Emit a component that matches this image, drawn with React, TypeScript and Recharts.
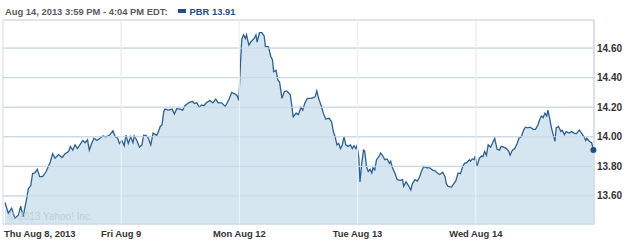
import { AreaChart, Area, XAxis, YAxis, CartesianGrid, ReferenceLine, ReferenceDot } from "recharts";

const dayLabels = ["Thu Aug 8, 2013", "Fri Aug 9", "Mon Aug 12", "Tue Aug 13", "Wed Aug 14"];
const priceTicks = [13.6, 13.8, 14.0, 14.2, 14.4, 14.6];

// time = fraction of the trading session, price = PBR last trade
const aug8Time = [0.017, 0.045, 0.073, 0.1, 0.13, 0.15, 0.17, 0.195, 0.215, 0.235, 0.25, 0.27, 0.29, 0.31, 0.335, 0.365, 0.4, 0.42, 0.44, 0.47, 0.5, 0.525, 0.555, 0.57, 0.59, 0.61, 0.63, 0.65, 0.675, 0.695, 0.715, 0.73, 0.75, 0.77, 0.795, 0.82, 0.845, 0.87, 0.9, 0.93, 0.95, 0.97, 0.985];
const aug8Price = [13.555, 13.483, 13.517, 13.45, 13.47, 13.53, 13.46, 13.56, 13.65, 13.67, 13.75, 13.756, 13.78, 13.73, 13.73, 13.765, 13.83, 13.885, 13.855, 13.88, 13.86, 13.885, 13.9, 13.935, 13.91, 13.945, 13.92, 13.945, 13.975, 13.96, 13.98, 13.91, 13.955, 13.99, 13.975, 13.99, 14.005, 14.0, 14.01, 14.04, 14.0, 13.99, 13.955];

const aug9Time = [0.006, 0.025, 0.04, 0.06, 0.08, 0.1, 0.11, 0.13, 0.155, 0.175, 0.19, 0.21, 0.23, 0.25, 0.27, 0.3, 0.315, 0.33, 0.345, 0.36, 0.37, 0.4, 0.43, 0.45, 0.47, 0.5, 0.52, 0.54, 0.57, 0.6, 0.62, 0.64, 0.66, 0.68, 0.7, 0.72, 0.75, 0.775, 0.8, 0.82, 0.85, 0.88, 0.91, 0.935, 0.96, 0.98, 0.995];
const aug9Price = [13.975, 13.94, 14.01, 13.955, 14.0, 13.96, 14.005, 13.98, 13.93, 13.945, 14.01, 14.01, 13.99, 13.945, 14.025, 14.01, 14.035, 14.07, 14.08, 14.17, 14.187, 14.18, 14.187, 14.155, 14.19, 14.187, 14.18, 14.21, 14.23, 14.24, 14.225, 14.23, 14.2, 14.215, 14.21, 14.23, 14.245, 14.23, 14.255, 14.23, 14.23, 14.205, 14.25, 14.3, 14.29, 14.28, 14.245];

const aug12Time = [0.01, 0.02, 0.035, 0.05, 0.06, 0.08, 0.1, 0.125, 0.14, 0.15, 0.17, 0.19, 0.21, 0.22, 0.245, 0.265, 0.28, 0.29, 0.31, 0.325, 0.34, 0.36, 0.38, 0.4, 0.43, 0.44, 0.455, 0.48, 0.5, 0.52, 0.535, 0.555, 0.575, 0.61, 0.64, 0.655, 0.67, 0.69, 0.71, 0.73, 0.76, 0.78, 0.795, 0.81, 0.825, 0.84, 0.855, 0.87, 0.885, 0.9, 0.92, 0.94, 0.955, 0.97, 0.985, 0.995];
const aug12Price = [14.51, 14.66, 14.69, 14.665, 14.69, 14.62, 14.645, 14.665, 14.69, 14.64, 14.705, 14.705, 14.68, 14.61, 14.61, 14.545, 14.52, 14.44, 14.45, 14.385, 14.37, 14.26, 14.305, 14.31, 14.285, 14.23, 14.135, 14.16, 14.15, 14.2, 14.18, 14.23, 14.26, 14.26, 14.27, 14.31, 14.26, 14.215, 14.16, 14.12, 14.125, 14.1, 14.035, 14.0, 13.945, 13.955, 13.92, 13.945, 14.0, 13.945, 13.935, 13.945, 13.92, 13.94, 13.92, 13.94];

const aug13Time = [0.01, 0.02, 0.035, 0.05, 0.06, 0.075, 0.09, 0.105, 0.12, 0.13, 0.145, 0.16, 0.18, 0.195, 0.21, 0.23, 0.25, 0.27, 0.28, 0.295, 0.315, 0.335, 0.36, 0.38, 0.39, 0.41, 0.43, 0.45, 0.465, 0.485, 0.505, 0.525, 0.54, 0.56, 0.585, 0.61, 0.635, 0.655, 0.675, 0.695, 0.72, 0.74, 0.75, 0.765, 0.795, 0.815, 0.83, 0.85, 0.87, 0.89, 0.905, 0.925, 0.945, 0.955, 0.97, 0.985, 0.995];
const aug13Price = [13.865, 13.695, 13.82, 13.91, 13.905, 13.8, 13.765, 13.78, 13.755, 13.79, 13.775, 13.845, 13.865, 13.89, 13.875, 13.845, 13.85, 13.82, 13.835, 13.79, 13.755, 13.71, 13.705, 13.71, 13.665, 13.695, 13.67, 13.64, 13.685, 13.71, 13.7, 13.73, 13.765, 13.8, 13.79, 13.79, 13.775, 13.77, 13.755, 13.745, 13.76, 13.73, 13.685, 13.665, 13.66, 13.685, 13.7, 13.755, 13.75, 13.8, 13.82, 13.825, 13.845, 13.835, 13.85, 13.845, 13.87];

const aug14Time = [0.01, 0.03, 0.05, 0.06, 0.075, 0.09, 0.105, 0.125, 0.14, 0.16, 0.18, 0.2, 0.215, 0.235, 0.26, 0.28, 0.29, 0.31, 0.33, 0.35, 0.365, 0.385, 0.405, 0.42, 0.44, 0.46, 0.485, 0.505, 0.525, 0.54, 0.555, 0.57, 0.585, 0.6, 0.61, 0.625, 0.64, 0.655, 0.67, 0.68, 0.7, 0.72, 0.73, 0.75, 0.765, 0.79, 0.81, 0.83, 0.85, 0.875, 0.895, 0.915, 0.93, 0.94, 0.96, 0.98, 0.995];
const aug14Price = [13.8, 13.855, 13.87, 13.865, 13.9, 13.875, 13.945, 13.93, 13.955, 13.99, 13.915, 13.91, 13.935, 13.93, 13.92, 13.9, 13.875, 13.91, 13.92, 13.955, 13.99, 14.0, 14.045, 14.065, 14.06, 14.065, 14.05, 14.05, 14.08, 14.115, 14.14, 14.13, 14.16, 14.14, 14.18, 14.125, 14.06, 14.015, 13.97, 14.06, 14.07, 14.035, 14.045, 14.015, 14.035, 14.025, 14.035, 14.025, 14.02, 14.045, 14.025, 14.0, 13.975, 13.99, 13.97, 13.96, 13.91];

const dayTimes = [aug8Time, aug9Time, aug12Time, aug13Time, aug14Time];
const dayPrices = [aug8Price, aug9Price, aug12Price, aug13Price, aug14Price];

const data = dayTimes.flatMap((times, d) =>
  times.map((f, i) => ({ t: d + f, price: dayPrices[d][i] }))
);
const last = data[data.length - 1];

const font = "'Liberation Sans', Arial, sans-serif";

function DayTick(props: any) {
  const { x, y, payload, index } = props;
  return (
    <text
      x={index === 0 ? x + 1 : x}
      y={y + 11}
      textAnchor={index === 0 ? "start" : "middle"}
      fontFamily={font}
      fontSize={9.4}
      fontWeight="bold"
      fill="#333"
    >
      {dayLabels[payload.value]}
    </text>
  );
}

export default function App() {
  return (
    <div style={{ position: "absolute", left: 0, top: 0, width: 625, height: 240, background: "#fff" }}>
      <div
        style={{
          position: "absolute",
          left: 5,
          top: 5,
          fontFamily: font,
          fontSize: 9.4,
          fontWeight: "bold",
          color: "#5a5a5a",
          whiteSpace: "nowrap",
          lineHeight: "14px",
        }}
      >
        Aug 14, 2013 3:59 PM - 4:04 PM EDT:
        <span style={{ display: "inline-block", width: 8, height: 4, background: "#1f4f86", margin: "0 4px 2px 10px" }} />
        <span style={{ color: "#1f4f86" }}>PBR 13.91</span>
      </div>
      <AreaChart width={625} height={240} data={data} margin={{ top: 20, right: 0, bottom: 0, left: 3 }}>
        <CartesianGrid stroke="#d3dde7" />
        <XAxis
          type="number"
          dataKey="t"
          domain={[0, 5]}
          ticks={[0, 1, 2, 3, 4]}
          height={16}
          tick={<DayTick />}
          tickLine={false}
          tickSize={0}
          axisLine={{ stroke: "#c9d6e2" }}
          interval={0}
        />
        <YAxis
          orientation="right"
          type="number"
          domain={[13.41, 14.79]}
          ticks={priceTicks}
          width={31}
          tickFormatter={(v) => Number(v).toFixed(2)}
          tick={{ fontFamily: font, fontSize: 10, fontWeight: "bold", fill: "#333", textAnchor: "start" }}
          tickLine={false}
          tickSize={0}
          tickMargin={3}
          axisLine={{ stroke: "#c9d6e2" }}
          allowDataOverflow
        />
        <Area
          type="linear"
          dataKey="price"
          stroke="#2c5f96"
          strokeWidth={1.3}
          fill="#d6e6f1"
          fillOpacity={1}
          isAnimationActive={false}
          dot={false}
          activeDot={false}
        />
        {priceTicks.map((p) => (
          <ReferenceLine key={p} y={p} stroke="#c6d7e6" />
        ))}
        <ReferenceLine y={14.79} stroke="#d3dde7" />
        {[1, 2, 3, 4].map((d) => (
          <ReferenceLine key={d} x={d} stroke="#eef4f8" />
        ))}
        <ReferenceDot x={last.t} y={last.price} r={3} fill="#1f4f86" stroke="none" />
      </AreaChart>
      <div
        style={{
          position: "absolute",
          left: 8,
          top: 211,
          fontFamily: font,
          fontSize: 10,
          color: "#c3ccd4",
          whiteSpace: "nowrap",
        }}
      >
        © 2013 Yahoo! Inc.
      </div>
    </div>
  );
}
